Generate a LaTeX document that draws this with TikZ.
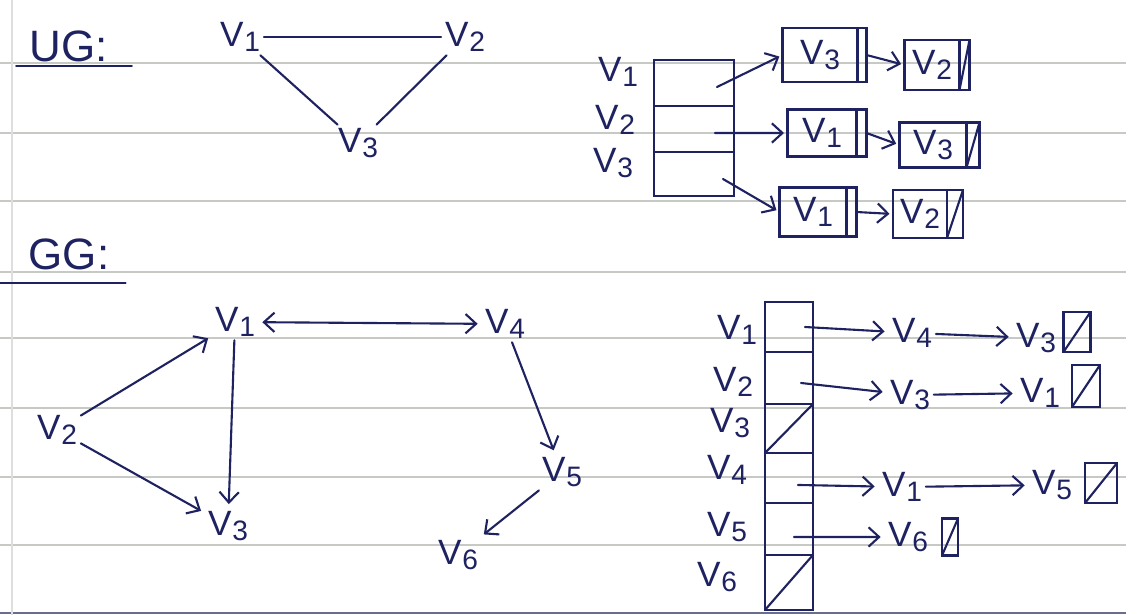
\documentclass[tikz,border=0pt]{standalone}
\usepackage{fontspec}
\setmainfont{Liberation Sans}
\usetikzlibrary{arrows.meta,positioning,calc}
\definecolor{ink}{HTML}{1E2260}
\definecolor{ruled}{HTML}{C6C9C4}
\newcommand{\vx}[1]{V\kern0.5pt\raisebox{-0.25ex}{\scalebox{0.8}{#1}}}

\begin{document}
\begin{tikzpicture}[x=0.02cm, y=-0.02cm,
    every node/.style={font=\fontsize{20}{24}\selectfont, text=ink, inner sep=2pt},
    title/.style={font=\fontsize{25}{30}\selectfont},
    ink/.style={draw=ink, line width=1.2pt, line cap=round},
    arr/.style={ink, shorten >=2pt, -{Straight Barb[length=6pt,width=11pt]}},
    darr/.style={ink, shorten >=2pt, shorten <=2pt, {Straight Barb[length=6pt,width=11pt]}-{Straight Barb[length=6pt,width=11pt]}},
    cell/.style={draw=ink, line width=1.2pt, inner sep=0pt, outer sep=0pt},
    nil/.style={cell, path picture={\draw[ink] (path picture bounding box.south west) -- (path picture bounding box.north east);}},
    rule/.style={draw=ruled, line width=0.8pt}
  ]
  \useasboundingbox (0,0) rectangle (1126,615);
  \fill[white] (0,0) rectangle (1126,615);
  % ruled paper
  \foreach \y in {63,133,201,272,338,408,477,545}
    \draw[rule] (0,\y) -- (1126,\y);
  \draw[draw=ink!55!ruled, line width=1pt] (0,613) -- (1126,613);
  \draw[draw=ruled!60, line width=0.6pt] (12,0) -- (12,615);

  % UG
  \node[title] (ug) at (69,46) {UG:};
  \draw[ink] ([xshift=-0.2cm,yshift=-0.02cm]ug.south west) -- ([xshift=0.4cm,yshift=-0.02cm]ug.south east);
  \node (u1) at (240,37) {\vx{1}};
  \node (u2) at (465,37) {\vx{2}};
  \node (u3) at (358,143) {\vx{3}};
  \draw[ink] (u1) -- (u2);
  \draw[ink] (u1) -- (u3);
  \draw[ink] (u3) -- (u2);

  % UG adjacency list
  \node[cell, minimum width=1.6cm, minimum height=0.92cm] (c1) at (694,83) {};
  \node[cell, minimum width=1.6cm, minimum height=0.92cm] (c2) at (694,129) {};
  \node[cell, minimum width=1.6cm, minimum height=0.88cm] (c3) at (694,174) {};
  \node (l1) at (618,72) {\vx{1}};
  \node (l2) at (615,120) {\vx{2}};
  \node (l3) at (613,163) {\vx{3}};

  \node[cell, minimum width=1.5cm, minimum height=1.08cm] (ua) at (820,55) {\vx{3}};
  \node[cell, minimum width=0.18cm, minimum height=1.08cm, right=0pt of ua] (pa) {};
  \node[cell, minimum width=1.1cm, minimum height=1cm] (va) at (932,65) {\vx{2}};
  \node[nil, minimum width=0.2cm, minimum height=1cm, right=0pt of va] (na) {};
  \node[cell, minimum width=1.38cm, minimum height=0.94cm] (ub) at (822,133) {\vx{1}};
  \node[cell, minimum width=0.2cm, minimum height=0.94cm, right=0pt of ub] (pb) {};
  \node[cell, minimum width=1.34cm, minimum height=0.9cm] (vb) at (933,145) {\vx{3}};
  \node[nil, minimum width=0.26cm, minimum height=0.9cm, right=0pt of vb] (nb) {};
  \node[cell, minimum width=1.34cm, minimum height=0.98cm] (uc) at (813,212) {\vx{1}};
  \node[cell, minimum width=0.2cm, minimum height=0.98cm, right=0pt of uc] (pc) {};
  \node[cell, minimum width=1.08cm, minimum height=0.96cm] (vc) at (920,214) {\vx{2}};
  \node[nil, minimum width=0.32cm, minimum height=0.96cm, right=0pt of vc] (nc) {};

  \draw[arr] ([xshift=0.46cm,yshift=-0.08cm]c1.center) -- (ua.west);
  \draw[arr] ([xshift=0.42cm,yshift=-0.08cm]c2.center) -- (ub.west);
  \draw[arr] ([xshift=0.58cm,yshift=-0.1cm]c3.center) -- (uc.west);
  \draw[arr] (pa.east) -- (va.west);
  \draw[arr] (pb.east) -- (vb.west);
  \draw[arr] (pc.east) -- (vc.west);

  % GG
  \node[title] (gg) at (69,254) {GG:};
  \draw[ink] ([xshift=-0.5cm,yshift=-0.2cm]gg.south west) -- ([xshift=0.25cm,yshift=-0.2cm]gg.south east);
  \node (g1) at (235,322) {\vx{1}};
  \node (g2) at (57,430) {\vx{2}};
  \node (g3) at (228,526) {\vx{3}};
  \node (g4) at (505,324) {\vx{4}};
  \node (g5) at (562,472) {\vx{5}};
  \node (g6) at (458,555) {\vx{6}};
  \draw[darr] (g1) -- (g4);
  \draw[arr] (g2) -- (g1);
  \draw[arr] (g2) -- (g3);
  \draw[arr] (g1) -- (g3);
  \draw[arr] (g4) -- (g5);
  \draw[arr] (g5) -- (g6);

  % GG adjacency list
  \node[cell, minimum width=0.96cm, minimum height=1cm] (r1) at (789,327) {};
  \node[cell, minimum width=0.96cm, minimum height=1.04cm, below=0pt of r1] (r2) {};
  \node[nil, minimum width=0.96cm, minimum height=0.98cm, below=0pt of r2] (r3) {};
  \node[cell, minimum width=0.96cm, minimum height=1cm, below=0pt of r3] (r4) {};
  \node[cell, minimum width=0.96cm, minimum height=1.04cm, below=0pt of r4] (r5) {};
  \node[nil, minimum width=0.96cm, minimum height=1.1cm, below=0pt of r5] (r6) {};
  \node (k1) at (737,330) {\vx{1}};
  \node (k2) at (733,382) {\vx{2}};
  \node (k3) at (730,423) {\vx{3}};
  \node (k4) at (727,470) {\vx{4}};
  \node (k5) at (727,527) {\vx{5}};
  \node (k6) at (717,577) {\vx{6}};

  \node (e14) at (912,333) {\vx{4}};
  \node (e13) at (1036,338) {\vx{3}};
  \node[nil, minimum width=0.54cm, minimum height=0.8cm] (z1) at (1077,332) {};
  \node (e23) at (910,395) {\vx{3}};
  \node (e21) at (1040,393) {\vx{1}};
  \node[nil, minimum width=0.56cm, minimum height=0.84cm] (z2) at (1086,386) {};
  \node (e41) at (902,487) {\vx{1}};
  \node (e45) at (1052,485) {\vx{5}};
  \node[nil, minimum width=0.64cm, minimum height=0.8cm] (z4) at (1101,483) {};
  \node (e56) at (908,537) {\vx{6}};
  \node[nil, minimum width=0.32cm, minimum height=0.74cm] (z5) at (950,537) {};

  \draw[arr] ([xshift=0.32cm]r1.center) -- (e14);
  \draw[arr] (e14) -- (e13);
  \draw[arr] ([xshift=0.24cm,yshift=-0.1cm]r2.center) -- (e23);
  \draw[arr] (e23) -- (e21);
  \draw[arr] ([xshift=0.18cm,yshift=-0.14cm]r4.center) -- (e41);
  \draw[arr] (e41) -- (e45);
  \draw[arr] ([xshift=0.1cm,yshift=-0.16cm]r5.center) -- (e56);
\end{tikzpicture}
\end{document}
